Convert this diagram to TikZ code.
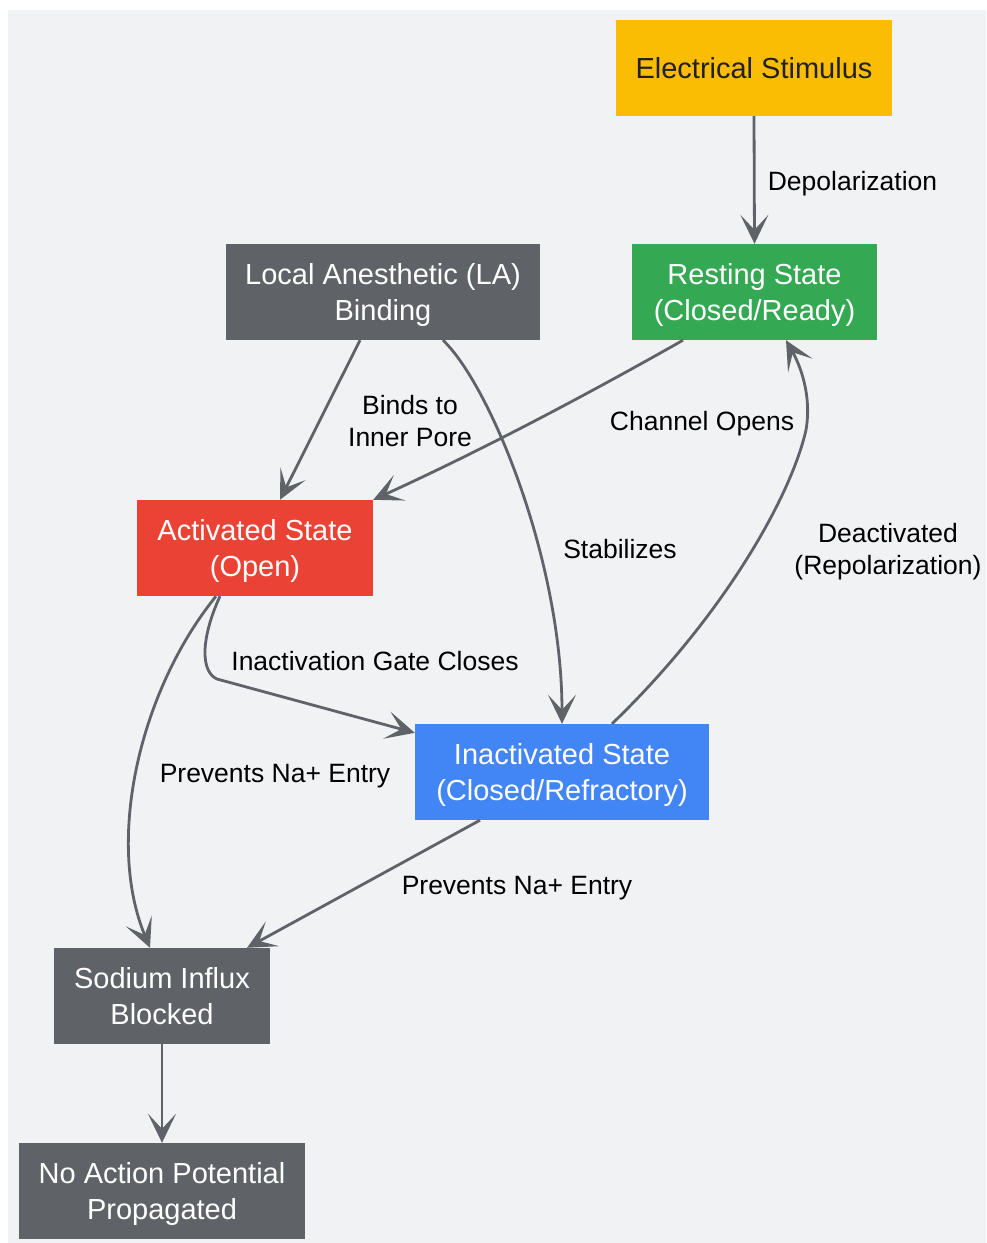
\documentclass[tikz,border=0pt]{standalone}
\usepackage{fontspec}
\setmainfont{Liberation Sans}
\usetikzlibrary{arrows.meta}

\definecolor{bgcol}{HTML}{F1F2F4}
\definecolor{linecol}{HTML}{5F6368}
\definecolor{graycol}{HTML}{5F6368}
\definecolor{yellowcol}{HTML}{FBBC04}
\definecolor{greencol}{HTML}{34A853}
\definecolor{redcol}{HTML}{EA4335}
\definecolor{bluecol}{HTML}{4285F4}
\definecolor{darktext}{HTML}{202124}

\begin{document}
\begin{tikzpicture}[x=1pt, y=-1pt,
    box/.style={inner sep=0pt, minimum height=96pt, align=center, text=white, text height=57pt, text depth=0pt, font=\fontsize{29}{36}\selectfont},
    lbl/.style={inner sep=0pt, align=center, text height=19pt, text depth=0pt, font=\fontsize{26.5}{32}\selectfont},
    link/.style={draw=linecol, line width=2.8pt, -{Stealth[length=29pt, width=28pt, inset=15pt]}}]

    \useasboundingbox (0,0) rectangle (986,1243);
    \fill[bgcol] (8,10) rectangle (986,1243);

    \node[box, fill=yellowcol, text=darktext, text height=21pt, minimum width=276pt] (stimulus) at (754,68) {Electrical Stimulus};
    \node[box, fill=greencol, minimum width=245pt] (resting) at (754.5,292) {Resting State\\(Closed/Ready)};
    \node[box, fill=graycol, minimum width=314pt] (anesthetic) at (383,292) {Local Anesthetic (LA)\\Binding};
    \node[box, fill=redcol, minimum width=236pt] (activated) at (255,548) {Activated State\\(Open)};
    \node[box, fill=bluecol, minimum width=294pt] (inact) at (562,772) {Inactivated State\\(Closed/Refractory)};
    \node[box, fill=graycol, minimum width=216pt] (sodium) at (162,996) {Sodium Influx\\Blocked};
    \node[box, fill=graycol, minimum width=286pt] (noap) at (162,1191) {No Action Potential\\Propagated};

    \node[lbl] (depol) at (852.5,181) {Depolarization};
    \node[lbl] (opens) at (702,421) {Channel Opens};
    \node[lbl, text height=51pt] (binds) at (410,421) {Binds to\\Inner Pore};
    \node[lbl] (stab) at (620,549) {Stabilizes};
    \node[lbl, text height=51pt] (deact) at (888,549) {Deactivated\\(Repolarization)};
    \node[lbl] (gate) at (375,661) {Inactivation Gate Closes};
    \node[lbl] (prevA) at (275,773) {Prevents Na+ Entry};
    \node[lbl] (prevB) at (517,885) {Prevents Na+ Entry};

    \draw[link] (stimulus.south) -- (resting.north);
    \draw[link] ([xshift=-71.5pt]resting.south) .. controls (583,397) and (476,453) .. (activated.north east);
    \draw[link] ([xshift=-23pt]anesthetic.south) -- ([xshift=25pt]activated.north);
    \draw[link] ([xshift=60pt]anesthetic.south) .. controls (490,385) and (562,560) .. (inact.north);
    \draw[link] ([xshift=-35pt]activated.south) .. controls (200,640) and (201,672) .. (217,679) -- ([yshift=-9pt]inact.north west);
    \draw[link] ([xshift=-39pt]activated.south) .. controls (140,690) and (105,840) .. ([xshift=-12pt]sodium.north);
    \draw[link] ([xshift=50pt]inact.north) .. controls (720,620) and (790,500) .. (806,430) .. controls (812,395) and (800,365) .. ([xshift=31.5pt]resting.south);
    \draw[link] ([xshift=-82pt]inact.south) -- ([xshift=85pt]sodium.north);
    \draw[link] (sodium.south) -- (noap.north);

\end{tikzpicture}
\end{document}
